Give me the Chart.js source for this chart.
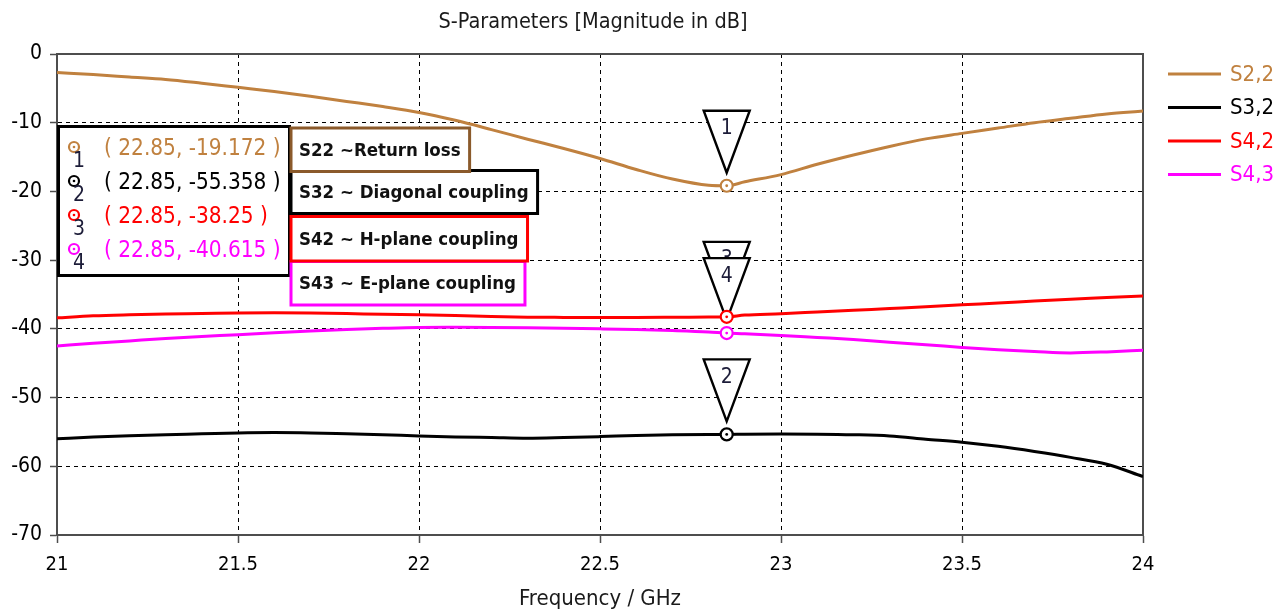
<!DOCTYPE html>
<html>
<head>
<meta charset="utf-8">
<script src="https://cdn.jsdelivr.net/npm/chart.js@4.4.1/dist/chart.umd.min.js"></script>
<style>
  html, body { margin: 0; padding: 0; background: #ffffff; }
  #wrap { width: 1287px; height: 612px; }
</style>
</head>
<body>
<div id="wrap"><canvas id="chart" width="1287" height="612"></canvas></div>
<script>
// Frequency sweep (GHz)
const freqGHz = [21.0, 21.1, 21.2, 21.3, 21.4, 21.5, 21.6, 21.7, 21.8, 21.9,
                 22.0, 22.1, 22.2, 22.3, 22.4, 22.5, 22.6, 22.7, 22.8, 22.85,
                 22.9, 23.0, 23.1, 23.2, 23.3, 23.4, 23.5, 23.6, 23.7, 23.8, 23.9, 24.0];

// S-parameter magnitudes (dB)
const s22 = [-2.70, -3.00, -3.35, -3.70, -4.25, -4.85, -5.45, -6.15, -6.90, -7.65,
             -8.50, -9.65, -11.00, -12.40, -13.75, -15.20, -16.80, -18.20, -19.10, -19.172,
             -18.60, -17.55, -16.05, -14.70, -13.45, -12.35, -11.55, -10.78, -10.00, -9.36, -8.72, -8.30];
const s32 = [-56.00, -55.75, -55.55, -55.40, -55.28, -55.15, -55.10, -55.15, -55.28, -55.42,
             -55.58, -55.72, -55.82, -55.92, -55.82, -55.68, -55.52, -55.40, -55.36, -55.358,
             -55.32, -55.30, -55.32, -55.40, -55.58, -56.05, -56.50, -57.10, -57.85, -58.70, -59.70, -61.50];
const s42 = [-38.40, -38.10, -37.95, -37.85, -37.78, -37.70, -37.66, -37.70, -37.78, -37.88,
             -37.95, -38.05, -38.20, -38.30, -38.33, -38.35, -38.35, -38.32, -38.28, -38.25,
             -38.00, -37.80, -37.55, -37.30, -37.05, -36.80, -36.50, -36.25, -35.95, -35.68, -35.45, -35.20];
const s43 = [-42.50, -42.10, -41.75, -41.40, -41.10, -40.85, -40.55, -40.30, -40.08, -39.92,
             -39.80, -39.78, -39.80, -39.85, -39.92, -40.00, -40.10, -40.25, -40.45, -40.615,
             -40.70, -40.95, -41.25, -41.55, -41.95, -42.30, -42.70, -43.05, -43.30, -43.50, -43.35, -43.10];

const seriesNames  = ['S2,2', 'S3,2', 'S4,2', 'S4,3'];
const seriesColors = ['#C0813F', '#000000', '#FF0000', '#FF00FF'];

// Marker readouts at the resonance frequency
const markerFreq   = 22.85;
const markerValues = [-19.172, -55.358, -38.25, -40.615];
const markerIds    = ['1', '2', '3', '4'];

// Note boxes describing each trace
const noteTexts   = ['S22 ~Return loss', 'S32 ~ Diagonal coupling', 'S42 ~ H-plane coupling', 'S43 ~ E-plane coupling'];
const noteBorders = ['#8B5A2B', '#000000', '#FF0000', '#FF00FF'];

// Axis ticks
const xTicks = [21, 21.5, 22, 22.5, 23, 23.5, 24];
const yTicks = [0, -10, -20, -30, -40, -50, -60, -70];

const FONT = "'DejaVu Sans Condensed', 'DejaVu Sans', sans-serif";
Chart.defaults.font.family = FONT;
Chart.defaults.color = '#000';

const seriesData = [s22, s32, s42, s43];

const lineSets = seriesData.map((vals, i) => ({
  label: seriesNames[i],
  data: freqGHz.map((f, k) => ({ x: f, y: vals[k] })),
  borderColor: seriesColors[i],
  backgroundColor: seriesColors[i],
  borderWidth: 3,
  pointRadius: 0,
  cubicInterpolationMode: 'monotone',
  order: 2
}));

const markerRings = markerValues.map((v, i) => ({
  type: 'scatter',
  label: 'M' + markerIds[i],
  data: [{ x: markerFreq, y: v }],
  pointRadius: 6,
  pointBorderWidth: 2.2,
  pointBackgroundColor: '#ffffff',
  pointBorderColor: seriesColors[i],
  showLine: false,
  order: 1
}));

const markerDots = markerValues.map((v, i) => ({
  type: 'scatter',
  label: 'D' + markerIds[i],
  data: [{ x: markerFreq, y: v }],
  pointRadius: 1.4,
  pointBorderWidth: 0,
  pointBackgroundColor: seriesColors[i],
  showLine: false,
  order: 0
}));

const edgeTransparent = (ctx) => {
  const n = ctx.scale.ticks.length;
  return (ctx.index === 0 || ctx.index === n - 1) ? 'rgba(0,0,0,0)' : '#000000';
};

// Chart title, plot frame and right-hand legend
const framePlugin = {
  id: 'frame',
  beforeDatasetsDraw(chart) {
    const { ctx, chartArea: a } = chart;
    ctx.save();
    ctx.strokeStyle = '#4d4d4d';
    ctx.lineWidth = 2;
    ctx.beginPath();
    ctx.moveTo(a.left, a.top);
    ctx.lineTo(a.right, a.top);
    ctx.lineTo(a.right, a.bottom);
    ctx.stroke();
    ctx.restore();
  },
  afterDraw(chart) {
    const { ctx, chartArea: a } = chart;
    ctx.save();
    ctx.fillStyle = '#1a1a1a';
    ctx.font = '21.5px ' + FONT;
    ctx.textAlign = 'center';
    ctx.textBaseline = 'middle';
    ctx.fillText('S-Parameters [Magnitude in dB]', (a.left + a.right) / 2 - 7, 22);

    // legend
    ctx.font = '22px ' + FONT;
    ctx.textAlign = 'left';
    seriesNames.forEach((name, i) => {
      const y = 74 + i * 33.5;
      ctx.strokeStyle = seriesColors[i];
      ctx.lineWidth = 3;
      ctx.beginPath();
      ctx.moveTo(a.right + 25, y);
      ctx.lineTo(a.right + 78, y);
      ctx.stroke();
      ctx.fillStyle = seriesColors[i];
      ctx.fillText(name, a.right + 87, y + 1);
    });
    ctx.restore();
  }
};

// Triangular marker flags above each marker point
const flagPlugin = {
  id: 'flags',
  beforeDatasetsDraw(chart) {
    const { ctx, scales: { x, y } } = chart;
    const px = x.getPixelForValue(markerFreq);
    ctx.save();
    markerValues.forEach((v, i) => {
      const py = y.getPixelForValue(v);
      const top = py - 75, tip = py - 13;
      ctx.beginPath();
      ctx.moveTo(px - 23, top);
      ctx.lineTo(px + 23, top);
      ctx.lineTo(px, tip);
      ctx.closePath();
      ctx.fillStyle = '#ffffff';
      ctx.fill();
      ctx.strokeStyle = '#000000';
      ctx.lineWidth = 2.4;
      ctx.lineJoin = 'miter';
      ctx.stroke();
      ctx.fillStyle = '#1c1c38';
      ctx.font = '21px ' + FONT;
      ctx.textAlign = 'center';
      ctx.textBaseline = 'middle';
      ctx.fillText(markerIds[i], px, top + 18);
    });
    ctx.restore();
  }
};

// Marker readout table and trace description notes
const notesPlugin = {
  id: 'notes',
  afterDraw(chart) {
    const { ctx, chartArea: a } = chart;
    ctx.save();

    // readout table
    const bx = a.left + 1.5, by = 126.5, bw = 231, bh = 149;
    ctx.fillStyle = '#ffffff';
    ctx.fillRect(bx, by, bw, bh);
    ctx.strokeStyle = '#000000';
    ctx.lineWidth = 3;
    ctx.strokeRect(bx, by, bw, bh);
    markerValues.forEach((v, i) => {
      const ry = 148 + i * 34;
      ctx.beginPath();
      ctx.arc(74, ry - 1, 5, 0, Math.PI * 2);
      ctx.fillStyle = '#ffffff';
      ctx.fill();
      ctx.strokeStyle = seriesColors[i];
      ctx.lineWidth = 2.2;
      ctx.stroke();
      ctx.beginPath();
      ctx.arc(74, ry - 1, 1.3, 0, Math.PI * 2);
      ctx.fillStyle = seriesColors[i];
      ctx.fill();
      ctx.fillStyle = '#1c1c38';
      ctx.font = '21px ' + FONT;
      ctx.textAlign = 'center';
      ctx.textBaseline = 'middle';
      ctx.fillText(markerIds[i], 79, ry + 14);
      ctx.fillStyle = seriesColors[i];
      ctx.font = '22.4px ' + FONT;
      ctx.textAlign = 'left';
      ctx.fillText('( ' + markerFreq + ', ' + v + ' )', 104, ry + 1);
    });

    // description notes, drawn bottom-up so upper boxes overlap lower ones
    const tops = [128, 170.5, 216.5, 261.5];
    const heights = [43.5, 43, 44.5, 43.5];
    ctx.font = 'bold 18.5px ' + FONT;
    for (let i = noteTexts.length - 1; i >= 0; i--) {
      const w = ctx.measureText(noteTexts[i]).width + 17;
      const x0 = 291;
      ctx.fillStyle = '#ffffff';
      ctx.fillRect(x0, tops[i], w, heights[i]);
      ctx.strokeStyle = noteBorders[i];
      ctx.lineWidth = 3;
      ctx.strokeRect(x0, tops[i], w, heights[i]);
      ctx.fillStyle = '#111111';
      ctx.textAlign = 'left';
      ctx.textBaseline = 'middle';
      ctx.fillText(noteTexts[i], x0 + 8, tops[i] + heights[i] / 2 + 1);
    }
    ctx.restore();
  }
};

new Chart(document.getElementById('chart'), {
  type: 'line',
  data: { datasets: [...markerDots, ...markerRings, ...lineSets] },
  options: {
    responsive: false,
    animation: false,
    devicePixelRatio: 1,
    layout: { padding: { top: 54, right: 144, left: 0, bottom: 0 } },
    plugins: {
      legend: { display: false },
      tooltip: { enabled: false },
      title: { display: false }
    },
    scales: {
      x: {
        type: 'linear',
        min: 21, max: 24,
        afterBuildTicks: (s) => { s.ticks = xTicks.map(v => ({ value: v })); },
        afterFit: (s) => { s.height = 77; },
        ticks: { font: { size: 20 }, color: '#000', padding: 10, maxRotation: 0, callback: (v) => String(v) },
        grid: { color: edgeTransparent, lineWidth: 1, tickLength: 8, tickColor: '#4d4d4d', tickWidth: 1.5 },
        border: { display: true, color: '#4d4d4d', width: 2, dash: [4, 4] },
        title: { display: true, text: 'Frequency / GHz', font: { size: 22 }, color: '#1a1a1a', padding: { top: 0, bottom: 0 } }
      },
      y: {
        type: 'linear',
        min: -70, max: 0,
        afterBuildTicks: (s) => { s.ticks = yTicks.map(v => ({ value: v })); },
        afterFit: (s) => { s.width = 57; },
        ticks: { font: { size: 21 }, color: '#000', padding: 8, callback: (v) => String(v) },
        grid: { color: edgeTransparent, lineWidth: 1, tickLength: 7, tickColor: '#4d4d4d', tickWidth: 1.5 },
        border: { display: true, color: '#4d4d4d', width: 2, dash: [4, 4] }
      }
    }
  },
  plugins: [framePlugin, flagPlugin, notesPlugin]
});
</script>
</body>
</html>
